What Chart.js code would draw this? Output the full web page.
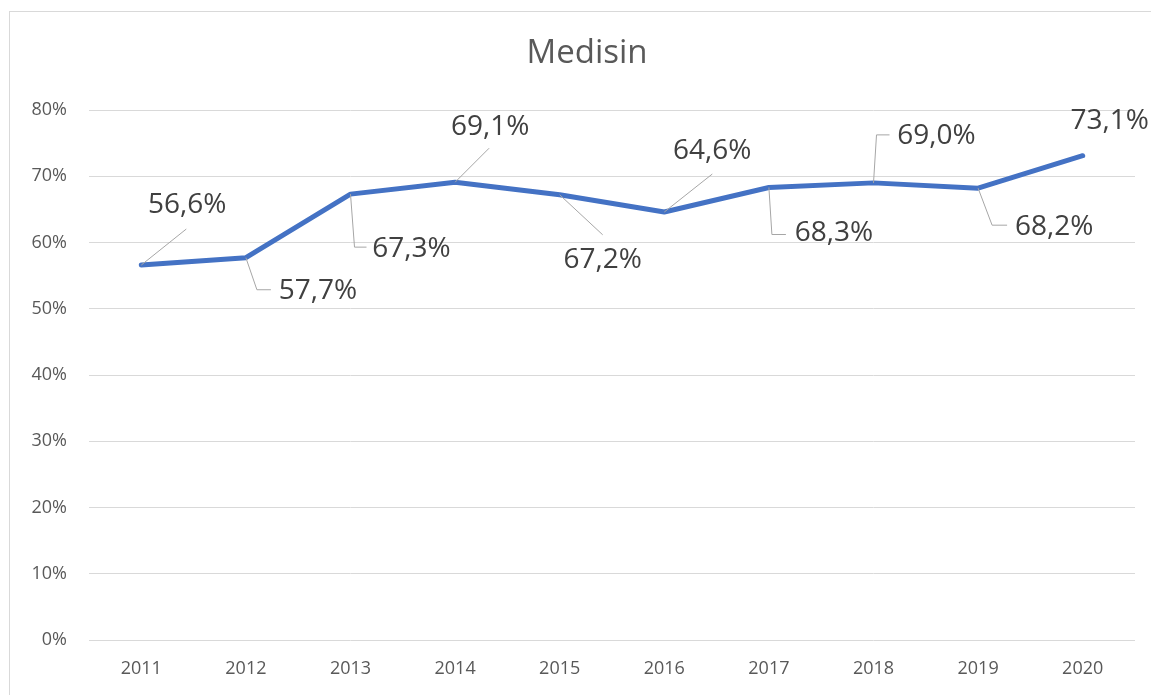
<!DOCTYPE html>
<html>
<head>
<meta charset="utf-8">
<script src="https://cdn.jsdelivr.net/npm/chart.js@4"></script>
<style>
  html, body { margin: 0; padding: 0; background: #fff; overflow: hidden; }
  #frame { position: absolute; left: 9px; top: 11px; width: 1160px; height: 720px; border: 1px solid #d9d9d9; }
  #wrap { position: absolute; left: 0; top: 0; width: 1151px; height: 695px; }
</style>
</head>
<body>
<div id="frame"></div>
<div id="wrap"><canvas id="chart"></canvas></div>
<script>
const years = ['2011', '2012', '2013', '2014', '2015', '2016', '2017', '2018', '2019', '2020'];
const medisin = [56.6, 57.7, 67.3, 69.1, 67.2, 64.6, 68.3, 69.0, 68.2, 73.1];
const yMin = 0, yMax = 80, yStep = 10;
const chartTitle = 'Medisin';

// label placement relative to each point (px) and leader line bends
const labelDx = [46, 72, 61, 35, 43, 48, 65, 63, 76, 27];
const labelDy = [-60, 33, 55, -55, 65, -61, 46, -47, 39, -35];
const leaders = [
  [[45, -36]],
  [[11, 32], [25, 32]],
  [[4, 53], [16, 53]],
  [[34, -34]],
  [[43, 40]],
  [[48, -38]],
  [[3, 47], [17, 47]],
  [[3, -48], [16, -48]],
  [[14, 37], [29, 37]],
  []
];

const fontFamily = "'Open Sans', 'Noto Sans', sans-serif";

// title sits a little right of the canvas centre, like the original
const titleDraw = {
  id: 'titleDraw',
  afterDraw(chart) {
    const ctx = chart.ctx;
    ctx.save();
    ctx.font = '33px ' + fontFamily;
    ctx.fillStyle = '#595959';
    ctx.textAlign = 'center';
    ctx.textBaseline = 'middle';
    ctx.fillText(chartTitle, 587, 54);
    ctx.restore();
  }
};

const dataLabels = {
  id: 'dataLabels',
  afterDatasetsDraw(chart) {
    const ctx = chart.ctx;
    const meta = chart.getDatasetMeta(0);
    ctx.save();
    meta.data.forEach(function (pt, i) {
      // leader line
      if (leaders[i].length) {
        ctx.beginPath();
        ctx.moveTo(pt.x, pt.y);
        leaders[i].forEach(function (p) { ctx.lineTo(pt.x + p[0], pt.y + p[1]); });
        ctx.strokeStyle = '#a6a6a6';
        ctx.lineWidth = 1;
        ctx.stroke();
      }
      ctx.font = '28px ' + fontFamily;
      ctx.fillStyle = '#404040';
      ctx.textAlign = 'center';
      ctx.textBaseline = 'middle';
      const txt = medisin[i].toFixed(1).replace('.', ',') + '%';
      ctx.fillText(txt, pt.x + labelDx[i], pt.y + labelDy[i]);
    });
    ctx.restore();
  }
};

new Chart(document.getElementById('chart'), {
  type: 'line',
  data: {
    labels: years,
    datasets: [{
      label: 'Medisin',
      data: medisin,
      borderColor: '#4472c4',
      borderWidth: 5,
      pointRadius: 0,
      tension: 0,
      borderJoinStyle: 'round',
      borderCapStyle: 'round',
      fill: false
    }]
  },
  options: {
    responsive: true,
    maintainAspectRatio: false,
    animation: false,
    layout: { padding: { left: 0, right: 16, top: 110, bottom: 0 } },
    plugins: {
      legend: { display: false },
      tooltip: { enabled: false },
      title: { display: false }
    },
    scales: {
      x: {
        offset: true,
        grid: { display: false, drawTicks: false },
        border: { display: false },
        ticks: {
          color: '#595959',
          font: { family: fontFamily, size: 18 },
          padding: 18,
          maxRotation: 0
        },
        afterFit: function (scale) { scale.height = 55; }
      },
      y: {
        min: yMin,
        max: yMax,
        grid: { color: '#d9d9d9', lineWidth: 1, drawTicks: false },
        border: { display: false },
        ticks: {
          stepSize: yStep,
          color: '#595959',
          font: { family: fontFamily, size: 18 },
          padding: 22,
          callback: function (v) { return v + '%'; }
        },
        afterFit: function (scale) { scale.width = 89; }
      }
    }
  },
  plugins: [dataLabels, titleDraw]
});
</script>
</body>
</html>
